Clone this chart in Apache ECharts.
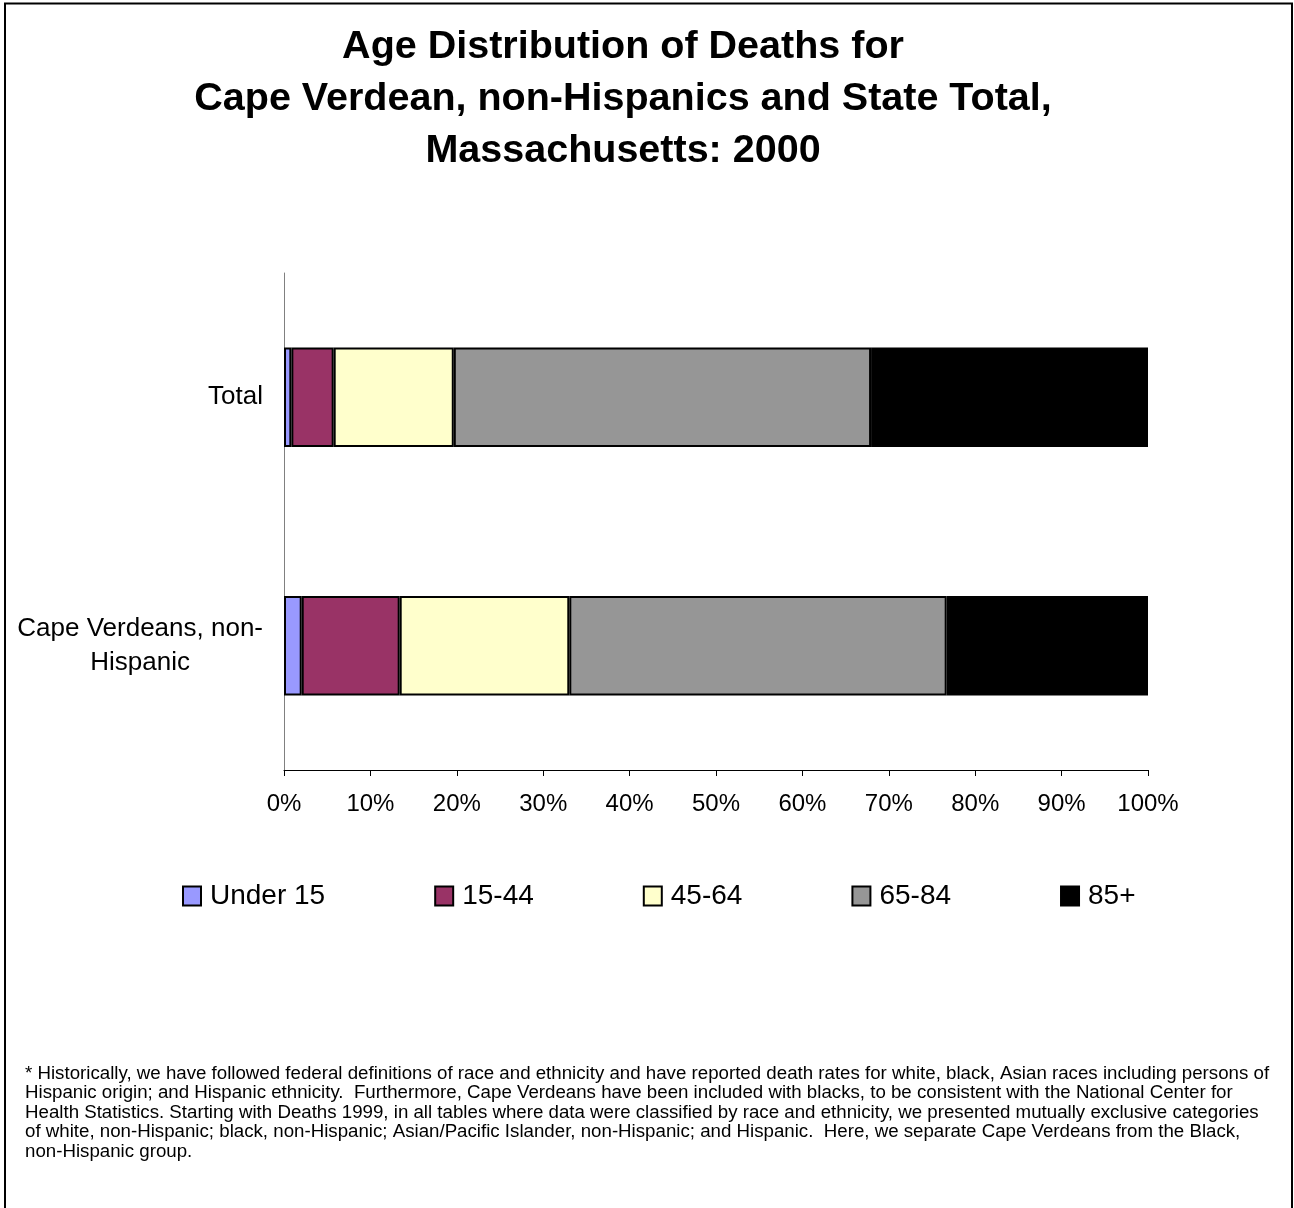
<!DOCTYPE html>
<html>
<head>
<meta charset="utf-8">
<title>Age Distribution of Deaths, Massachusetts 2000</title>
<script src="https://cdn.jsdelivr.net/npm/echarts@6/dist/echarts.min.js"></script>
<style>
  html, body { margin: 0; padding: 0; background: #ffffff; }
  #chart { width: 1294px; height: 1208px; }
</style>
</head>
<body>
<div id="chart"></div>
<script>
// Population groups, listed bottom to top on the category axis
const groups = ['Cape Verdeans, non-Hispanic', 'Total'];

// Age bands and their fill colours
const ageBands = ['Under 15', '15-44', '45-64', '65-84', '85+'];
const bandColors = ['#9999FF', '#993366', '#FFFFCC', '#969696', '#000000'];

// Percent of deaths in each age band, per group (same order as groups)
const under15 = [2.05, 0.85];
const age15to44 = [11.34, 4.9];
const age45to64 = [19.63, 13.9];
const age65to84 = [43.68, 48.3];
const age85plus = [23.3, 32.05];

// Percentage tick labels along the value axis
const tickLabels = ['0%', '10%', '20%', '30%', '40%', '50%', '60%', '70%', '80%', '90%', '100%'];

const footnote = [
  '* Historically, we have followed federal definitions of race and ethnicity and have reported death rates for white, black, Asian races including persons of',
  'Hispanic origin; and Hispanic ethnicity.  Furthermore, Cape Verdeans have been included with blacks, to be consistent with the National Center for',
  'Health Statistics. Starting with Deaths 1999, in all tables where data were classified by race and ethnicity, we presented mutually exclusive categories',
  'of white, non-Hispanic; black, non-Hispanic; Asian/Pacific Islander, non-Hispanic; and Hispanic.  Here, we separate Cape Verdeans from the Black,',
  'non-Hispanic group.'
].join('\n');

const FONT = 'Arial, "Liberation Sans", Helvetica, sans-serif';
const seriesValues = [under15, age15to44, age45to64, age65to84, age85plus];

const chart = echarts.init(document.getElementById('chart'), null, { renderer: 'canvas' });

chart.setOption({
  backgroundColor: '#ffffff',
  animation: false,
  title: {
    text: 'Age Distribution of Deaths for\nCape Verdean, non-Hispanics and State Total,\nMassachusetts: 2000',
    left: 618,
    top: 16,
    textAlign: 'center',
    textStyle: {
      fontFamily: FONT,
      fontSize: 39.5,
      fontWeight: 'bold',
      lineHeight: 52,
      color: '#000000'
    }
  },
  legend: {
    left: 177,
    top: 877,
    itemWidth: 18,
    itemHeight: 19,
    itemGap: 109,
    icon: 'rect',
    data: ageBands,
    textStyle: {
      fontFamily: FONT,
      fontSize: 28,
      color: '#000000',
      padding: [0, 0, 0, 4]
    }
  },
  grid: {
    left: 284,
    right: 146,
    top: 273,
    bottom: 438,
    containLabel: false
  },
  xAxis: {
    type: 'value',
    min: 0,
    max: 100,
    interval: 10,
    splitLine: { show: false },
    axisLine: { show: true, lineStyle: { color: '#000000', width: 1 } },
    axisTick: { show: true, length: 6, lineStyle: { color: '#000000' } },
    axisLabel: {
      margin: 22,
      fontFamily: FONT,
      fontSize: 24,
      color: '#000000',
      formatter: function (v) { return tickLabels[Math.round(v / 10)]; }
    }
  },
  yAxis: {
    type: 'category',
    data: groups,
    axisLine: { show: true, lineStyle: { color: '#808080', width: 1 } },
    axisTick: { show: false },
    splitLine: { show: false },
    axisLabel: {
      margin: 21,
      align: 'right',
      formatter: function (v) {
        return v.replace(', non-', ', non-\n').split('\n').map(function (s) { return '{c|' + s + '}'; }).join('\n');
      },
      rich: {
        c: {
          fontFamily: FONT,
          fontSize: 26,
          lineHeight: 34,
          color: '#000000',
          align: 'center'
        }
      }
    }
  },
  series: ageBands.map(function (name, i) {
    return {
      name: name,
      type: 'bar',
      stack: 'share',
      barWidth: '40%',
      data: seriesValues[i],
      itemStyle: {
        color: bandColors[i],
        borderColor: '#000000',
        borderWidth: 2
      },
      emphasis: { disabled: true }
    };
  }),
  graphic: [
    {
      type: 'rect',
      shape: { x: 5, y: 3.5, width: 1287, height: 1230 },
      style: { fill: 'none', stroke: '#000000', lineWidth: 2 },
      silent: true
    },
    {
      type: 'text',
      left: 25,
      top: 1064,
      style: {
        text: footnote,
        fontFamily: FONT,
        fontSize: 18.7,
        lineHeight: 19.5,
        fill: '#000000'
      },
      silent: true
    }
  ]
});
</script>
</body>
</html>
